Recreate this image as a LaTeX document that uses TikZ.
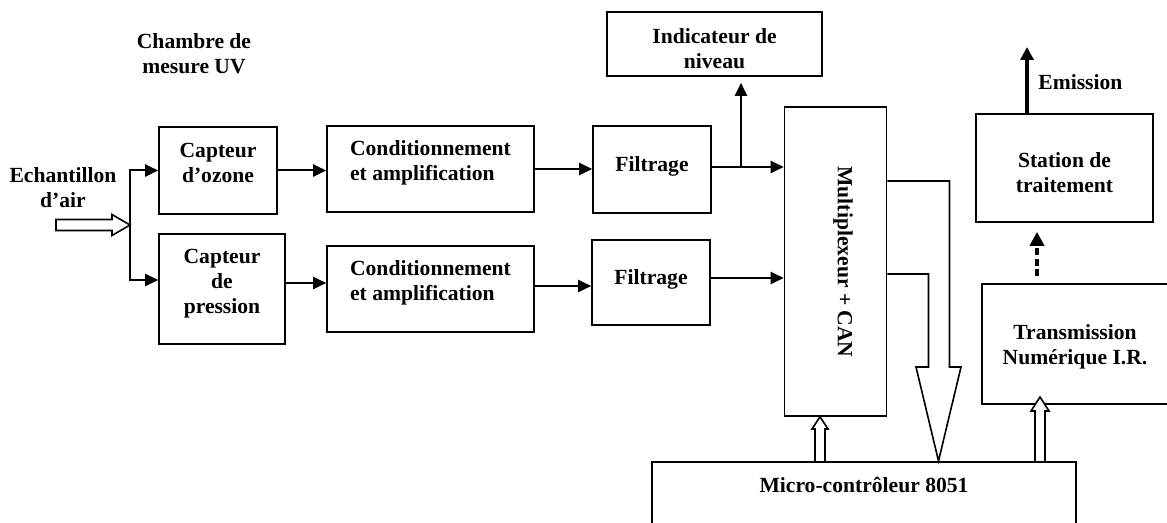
\documentclass[tikz,border=0pt]{standalone}
\usepackage{fontspec}
\setmainfont{Liberation Serif}
\usetikzlibrary{arrows.meta}

\begin{document}
\begin{tikzpicture}[x=0.5pt,y=-0.5pt]
\tikzstyle{block} = [rectangle, draw, line width=0.8pt, align=center, inner sep=1pt,
font=\fontsize{10.8pt}{12.5pt}\selectfont\bfseries]
\tikzstyle{block_up} = [block, text depth=8pt]
\tikzstyle{block_down} = [block, text height=24.5pt]
\tikzstyle{txt} = [align=center, inner sep=1pt, font=\fontsize{10.8pt}{12.5pt}\selectfont\bfseries]
\tikzstyle{line} = [draw, line width=1pt, -{Triangle[length=6.5pt,width=6pt]}]
\tikzstyle{hollow} = [draw, line width=0.8pt, fill=white]
\clip (0,0) rectangle (1167,523);

% capteurs
\node [block_up, minimum width=59pt, minimum height=43.5pt] (ozone) at (218,170.5) {Capteur\\d’ozone};
\node [block_up, minimum width=63pt, minimum height=55pt] (pression) at (222,289) {Capteur\\de\\pression};
% conditionnement
\node [block_up, align=left, minimum width=103.5pt, minimum height=43pt] (cond1) at (430.5,169) {Conditionnement\\et amplification};
\node [block_up, align=left, minimum width=103.5pt, minimum height=43pt] (cond2) at (430.5,289) {Conditionnement\\et amplification};
% filtrage
\node [block_up, text depth=5pt, minimum width=59pt, minimum height=43.5pt] (filt1) at (652,169.5) {Filtrage};
\node [block_up, text depth=5pt, minimum width=59pt, minimum height=42.5pt] (filt2) at (651,282.5) {Filtrage};
\node [block, minimum width=51pt, minimum height=154.5pt] (mux) at (835.5,261.5) {};
\node [txt, rotate=-90] (muxtxt) at (843,262) {Multiplexeur + CAN};
\node [block_down, text height=25pt, minimum width=107.5pt, minimum height=32pt] (indic) at (714.5,44) {Indicateur de\\niveau};
% partie droite
\node [block_down, minimum width=88.5pt, minimum height=54pt] (station) at (1064.5,168) {Station de\\traitement};
\node [block_down, text height=22.4pt, minimum width=93pt, minimum height=60pt] (trans) at (1075,344) {Transmission\\Numérique I.R.};
\node [block, minimum width=212pt, minimum height=50pt, anchor=north] (mcu) at (864,461) {};
\node [txt] (mcutxt) at (864,485) {Micro-contrôleur 8051};
% textes
\node [txt] (chambre) at (194,53.5) {Chambre de\\mesure UV};
\node [txt] (echant) at (63,188) {Echantillon\\d’air};
\node [txt, anchor=west] (emis) at (1036,82) {Emission};

\coordinate (split) at (130,225);
\coordinate (emisout) at (1027,47);

\draw [hollow] (split) -- ++(-18,-10.5) -- ++(0,5) -- ++(-56,0) -- ++(0,11) -- ++(56,0) -- ++(0,5) -- cycle;
\path [line] (split) |- (ozone.west);
\path [line] (split) |- (pression.west |- 0,280);
\path [line] (ozone.east) -- (cond1.west |- ozone.east);
\path [line] (pression.east |- 0,283) -- (cond2.west |- 0,283);
\path [line] (cond1.east) -- (filt1.west |- cond1.east);
\path [line] (cond2.east |- 0,286) -- (filt2.west |- 0,286);
\path [line] (filt1.east |- 0,167) -- (mux.west |- 0,167);
\path [line] (filt2.east |- 0,278) -- (mux.west |- 0,278);
\path [line, shorten >=3pt] (741,167) -- (indic.south -| 741,0);

% bus vers le micro-controleur
\draw [hollow] (mux.east |- 0,181) -- (949.5,181) -- (949.5,367) -- (961,367) -- (938.5,461)
  -- (916,367) -- (928.5,367) -- (928.5,274) -- (mux.east |- 0,274);
\draw [hollow] (815,461) -- (815,429) -- (812,429) -- (mux.south -| 820,0) -- (828,429) -- (825,429) -- (825,461);
\draw [hollow] (1035,461) -- (1035,411) -- (1031,411) -- (1040,397) -- (1049,411) -- (1045,411) -- (1045,461);

\path [line, line width=1.8pt, dash pattern=on 3.5pt off 1.8pt, shorten <=3.5pt, shorten >=4.5pt,
  -{Triangle[length=7pt,width=7pt]}]
  (trans.north -| 1037,0) -- (station.south -| 1037,0);
\path [line, line width=2pt, -{Triangle[length=6.5pt,width=6.5pt]}] (station.north -| 1027,0) -- (emisout);
\end{tikzpicture}
\end{document}
